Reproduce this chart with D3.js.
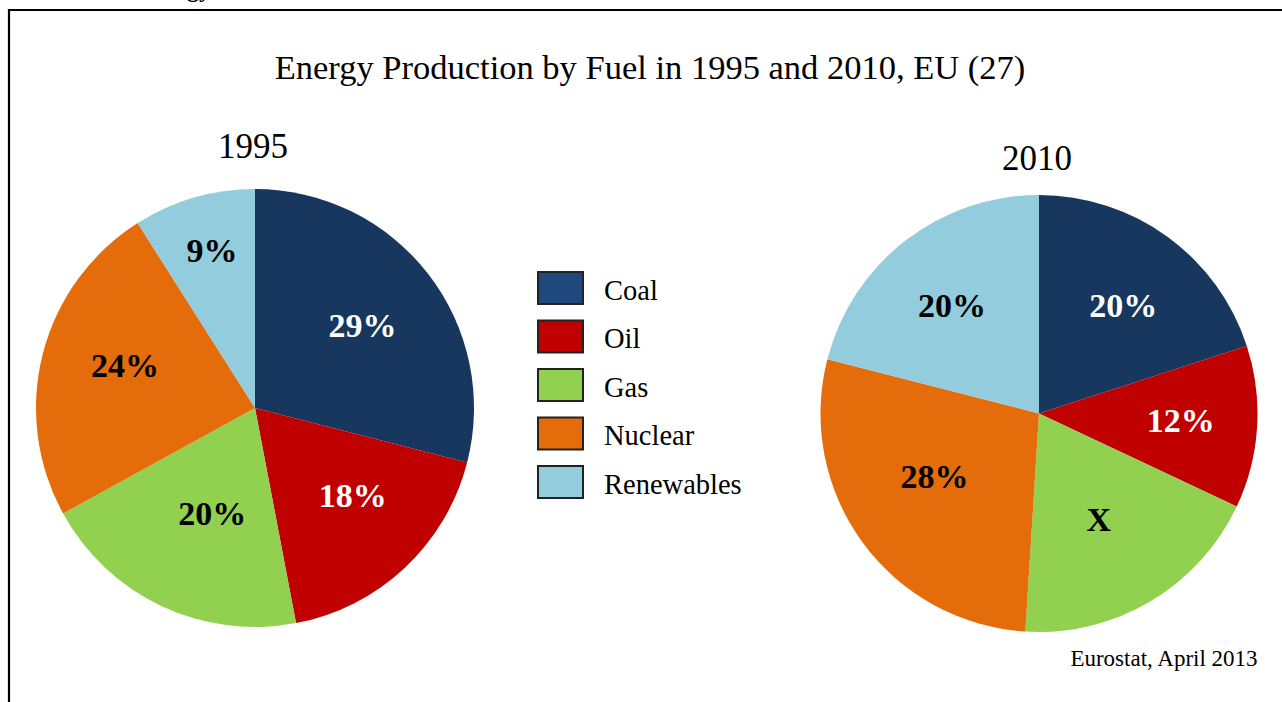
<!DOCTYPE html>
<html>
<head>
<meta charset="utf-8">
<script src="https://cdn.jsdelivr.net/npm/d3@7"></script>
<style>
  body{margin:0;background:#fff;}
  svg{display:block;font-family:"Liberation Serif","Times New Roman",serif;}
</style>
</head>
<body>
<div id="chart"></div>
<script>
const fuels = ["Coal","Oil","Gas","Nuclear","Renewables"];
const colors = ["#17375E","#C00000","#92D050","#E46C0A","#93CDDD"];
const legendColors = ["#1F497D","#C00000","#92D050","#E46C0A","#93CDDD"];
const values1995 = [29,18,20,24,9];
const values2010 = [20,12,19,28,21];
const labels1995 = ["29%","18%","20%","24%","9%"];
const labels2010 = ["20%","12%","X","28%","20%"];
const labelColors = ["#fff","#fff","#000","#000","#000"];

let width = 1282, height = 702;

const svg = d3.select("#chart").append("svg")
  .attr("width",width).attr("height",height);

// outer frame (only left and top edges are visible)
svg.append("path").attr("d","M9,702V10H1282")
  .attr("fill","none").attr("stroke","#000").attr("stroke-width",2.2);

svg.append("text").attr("x",211).attr("y",-3).attr("text-anchor","end")
  .attr("font-weight","bold").attr("font-size",24).text("Energy");

svg.append("text").attr("x",650).attr("y",79).attr("text-anchor","middle")
  .attr("font-size",34.5).text("Energy Production by Fuel in 1995 and 2010, EU (27)");

svg.append("text").attr("x",1164).attr("y",666).attr("text-anchor","middle")
  .attr("font-size",23).text("Eurostat, April 2013");

const pie = d3.pie().sort(null).value(d=>d);
const radius = 219;
const arc = d3.arc().innerRadius(0).outerRadius(radius);

// label placement: [radius, angle shift in degrees] per slice
function drawPie(values, labels, cx, cy, r, year, yearY, labelPos){
  const g = svg.append("g").attr("transform",`translate(${cx},${cy})`);
  const arcs = pie(values);
  g.selectAll("path").data(arcs).enter().append("path")
    .attr("d",arc.outerRadius(r))
    .attr("fill",(d,i)=>colors[i]);
  g.selectAll("text.lab").data(arcs).enter().append("text")
    .attr("class","lab")
    .attr("transform",(d,i)=>{
      const a = (d.startAngle+d.endAngle)/2 + labelPos[i][1]*Math.PI/180,
            lr = labelPos[i][0];
      return `translate(${Math.sin(a)*lr},${-Math.cos(a)*lr})`;
    })
    .attr("text-anchor","middle").attr("dy","0.35em")
    .attr("font-weight","bold").attr("font-size",34)
    .attr("fill",(d,i)=>labelColors[i])
    .text((d,i)=>labels[i]);
  svg.append("text").attr("x",cx-2).attr("y",yearY).attr("text-anchor","middle")
    .attr("font-size",35).text(year);
}

drawPie(values1995, labels1995, 255, 408, radius, "1995", 158,
  [[136,0],[131,-5],[113,-3],[137,4],[164,1]]);
drawPie(values2010, labels2010, 1039, 413.5, 218.5, "2010", 170,
  [[137,2],[142,-1],[121,1],[122,5],[139,-1]]);

// legend
const legendY = d3.scalePoint().domain(fuels).range([288,482]);
const lg = svg.append("g");
const item = lg.selectAll("g").data(fuels).enter().append("g")
  .attr("transform",d=>`translate(538,${legendY(d)})`);
item.append("rect").attr("x",0).attr("y",-16).attr("width",45).attr("height",32)
  .attr("fill",(d,i)=>legendColors[i]).attr("stroke","#222").attr("stroke-width",2);
item.append("text").attr("x",66).attr("y",2).attr("dy","0.35em")
  .attr("font-size",28.5).text(d=>d);
</script>
</body>
</html>
